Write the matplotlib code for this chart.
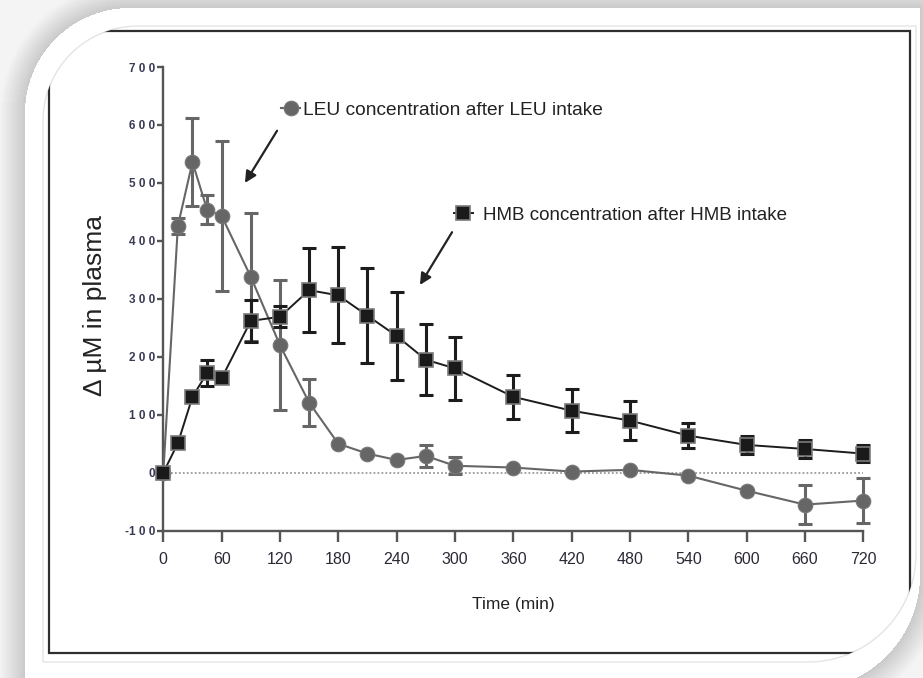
import numpy as np
import matplotlib
matplotlib.use("Agg")
import matplotlib.pyplot as plt
from matplotlib.patches import Polygon

# ---------------- data ----------------
time_min = [0, 15, 30, 45, 60, 90, 120, 150, 180, 210, 240, 270, 300, 360, 420, 480, 540, 600, 660, 720]
leu_conc = [0, 426, 536, 454, 443, 338, 220, 121, 50, 33, 22, 29, 12, 9, 2, 5, -5, -31, -55, -48]
leu_err = [0, 14, 76, 25, 130, 110, 112, 41, 0, 0, 0, 19, 15, 0, 0, 0, 0, 0, 33, 39]
hmb_conc = [0, 51, 131, 172, 163, 262, 269, 315, 306, 271, 236, 195, 180, 131, 107, 90, 64, 48, 41, 33]
hmb_err = [0, 0, 0, 22, 0, 36, 18, 72, 83, 82, 76, 61, 54, 38, 37, 33, 22, 16, 15, 15]
x_ticks = [0, 60, 120, 180, 240, 300, 360, 420, 480, 540, 600, 660, 720]
y_ticks = [-100, 0, 100, 200, 300, 400, 500, 600, 700]
y_tick_labels = ["-1 0 0", "0", "1 0 0", "2 0 0", "3 0 0", "4 0 0", "5 0 0", "6 0 0", "7 0 0"]
leu_label = "LEU concentration after LEU intake"
hmb_label = "HMB concentration after HMB intake"
x_label = "Time (min)"
y_label = "\u0394 \u00b5M in plasma"

W, H = 923, 678
fig = plt.figure(figsize=(W / 100, H / 100), dpi=100)
fig.patch.set_facecolor("white")

# ---------------- decorative background (card with shadow) ----------------
def rounded_mask(xx, yy, x0, y0, x1, y1, r_tl, r_br):
    inside = (xx >= x0) & (xx <= x1) & (yy >= y0) & (yy <= y1)
    cx, cy = x0 + r_tl, y0 + r_tl
    tl = (xx < cx) & (yy < cy) & ((xx - cx) ** 2 + (yy - cy) ** 2 > r_tl ** 2)
    cx2, cy2 = x1 - r_br, y1 - r_br
    br = (xx > cx2) & (yy > cy2) & ((xx - cx2) ** 2 + (yy - cy2) ** 2 > r_br ** 2)
    return inside & ~tl & ~br


def rounded_poly(x0, y0, x1, y1, r_tl, r_br, n=40):
    pts = []
    a = np.linspace(np.pi, 1.5 * np.pi, n)
    pts += list(zip(x0 + r_tl + r_tl * np.cos(a), y0 + r_tl + r_tl * np.sin(a)))
    pts.append((x1, y0))
    a = np.linspace(0, 0.5 * np.pi, n)
    pts += list(zip(x1 - r_br + r_br * np.cos(a), y1 - r_br + r_br * np.sin(a)))
    pts.append((x0, y1))
    return np.array(pts)


yy, xx = np.mgrid[0:H, 0:W] + 0.5
card = rounded_mask(xx, yy, 25, 8, 920, 690, 105, 115)
dist = np.zeros_like(xx)
for k in range(1, 30):
    grown = rounded_mask(xx, yy, 25 - k, 8 - k, 920 + k, 690 + k, 105 + k, 115 + k)
    dist = np.where((~card) & (dist == 0) & grown, k, dist)
dist = np.where((~card) & (dist == 0), 30, dist)
level = np.where(card, 1.0, 0.79 + 0.17 * np.clip(dist / 26.0, 0, 1))
bg_img = np.dstack([level, level, level])

ax_bg = fig.add_axes([0, 0, 1, 1], zorder=0)
ax_bg.imshow(bg_img, extent=(0, W, H, 0), interpolation="bilinear", aspect="auto")
ax_bg.set_xlim(0, W)
ax_bg.set_ylim(H, 0)
ax_bg.axis("off")

inner = Polygon(rounded_poly(43, 26, 916, 662, 95, 108), closed=True,
                facecolor="none", edgecolor="#e4e4e4", lw=1.0)
ax_bg.add_patch(inner)
frame = Polygon([(49, 31), (910, 31), (910, 653), (49, 653)], closed=True,
                facecolor="none", edgecolor="#2e2e2e", lw=1.6)
ax_bg.add_patch(frame)
frame.set_clip_path(inner)

# ---------------- main chart ----------------
ax = fig.add_axes([163.3 / W, 1 - 530.7 / H, 700 / W, (530.7 - 67) / H], zorder=1)
ax.patch.set_alpha(0)
ax.set_xlim(0, 720)
ax.set_ylim(-100, 700)

t = np.array(time_min)
leu = np.array(leu_conc, dtype=float)
le = np.array(leu_err, dtype=float)
hmb = np.array(hmb_conc, dtype=float)
he = np.array(hmb_err, dtype=float)

ax.axhline(0, color="#9a9a9a", lw=1.3, ls=(0, (1, 1.2)), zorder=1)

leu_col = "#666666"
hmb_col = "#1c1c1c"

m = le > 0
ax.errorbar(t[m], leu[m], yerr=le[m], fmt="none", ecolor=leu_col, elinewidth=2.2,
            capsize=5, capthick=2.2, clip_on=False, zorder=3)
leu_line, = ax.plot(t, leu, "-o", color=leu_col, lw=1.5, ms=10.5, mfc=leu_col,
                    mec="#777777", mew=0.8, clip_on=False, zorder=4)

m = he > 0
ax.errorbar(t[m], hmb[m], yerr=he[m], fmt="none", ecolor=hmb_col, elinewidth=2.2,
            capsize=5, capthick=2.2, clip_on=False, zorder=5)
hmb_line, = ax.plot(t, hmb, "-s", color=hmb_col, lw=1.4, ms=9.5, mfc="#1a1a1a",
                    mec="#7a7a7a", mew=1.2, clip_on=False, zorder=6)

for s in ["top", "right"]:
    ax.spines[s].set_visible(False)
for s in ["left", "bottom"]:
    ax.spines[s].set_color("#555555")
    ax.spines[s].set_linewidth(1.7)

ax.set_xticks(x_ticks)
ax.set_xticklabels([str(v) for v in x_ticks])
ax.set_yticks(y_ticks)
ax.set_yticklabels(y_tick_labels)
ax.tick_params(axis="x", direction="out", length=8, width=1.7, color="#555555", pad=7,
               labelsize=11.5, labelcolor="#2a2a35")
ax.tick_params(axis="y", direction="out", length=4, width=1.7, color="#555555", pad=2,
               labelsize=8.5, labelcolor="#3a3a55")
for lab in ax.get_xticklabels():
    lab.set_family(["Liberation Sans Narrow", "Liberation Sans", "DejaVu Sans"])
for lab in ax.get_yticklabels():
    lab.set_family(["Liberation Sans", "DejaVu Sans"])
    lab.set_fontweight("bold")

ax.set_xlabel(x_label, fontsize=12.5, family=["Liberation Sans", "DejaVu Sans"], color="#222222")
ax.xaxis.set_label_coords(0.5, (530.7 - 605) / 463.7)
ax.xaxis.label.set_va("center")
ax.set_ylabel(y_label, fontsize=19, family=["Liberation Sans", "DejaVu Sans"], color="#222222")
ax.yaxis.set_label_coords((95 - 163.3) / 700, (530.7 - 305) / 463.7)
ax.yaxis.label.set_va("center")

# legend-like labels
leg1 = ax.legend([leu_line], [leu_label], loc="center left", frameon=False,
                 bbox_to_anchor=(281 / W, 1 - 110 / H), bbox_transform=fig.transFigure,
                 borderpad=0, borderaxespad=0, handlelength=1.0, handletextpad=0.15,
                 prop={"family": ["Liberation Sans", "DejaVu Sans"], "size": 13.8},
                 labelcolor="#222222")
ax.add_artist(leg1)
ax.legend([hmb_line], [hmb_label], loc="center left", frameon=False,
          bbox_to_anchor=(454 / W, 1 - 215 / H), bbox_transform=fig.transFigure,
          borderpad=0, borderaxespad=0, handlelength=1.0, handletextpad=0.55,
          prop={"family": ["Liberation Sans", "DejaVu Sans"], "size": 13.5},
          labelcolor="#222222")

arrow_kw = dict(arrowstyle="-|>", color="#222222", lw=1.6, mutation_scale=17,
                shrinkA=0, shrinkB=0)
ax.annotate("", xy=(84, 500), xytext=(117, 590), arrowprops=arrow_kw, annotation_clip=False)
ax.annotate("", xy=(264, 324), xytext=(297, 415), arrowprops=arrow_kw, annotation_clip=False)

fig.savefig("out.png", dpi=100)
